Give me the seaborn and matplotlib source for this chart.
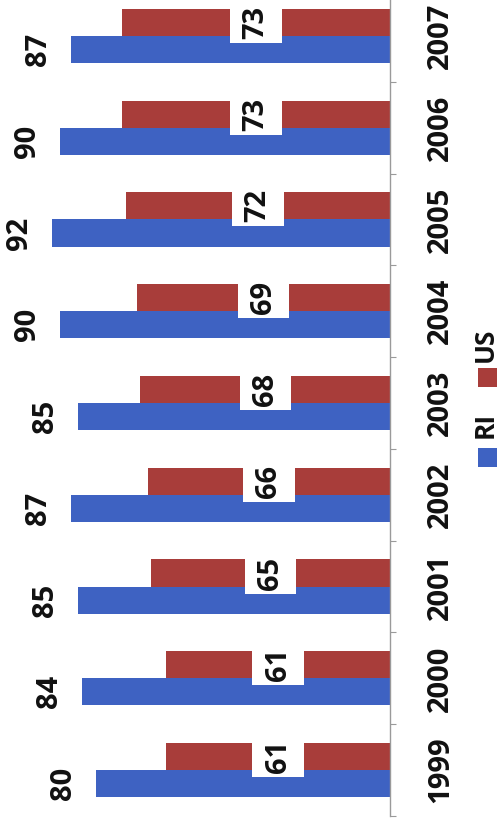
import matplotlib
matplotlib.use("Agg")
import matplotlib.pyplot as plt
from matplotlib.patches import Rectangle
import seaborn as sns
import pandas as pd

years = ["2007", "2006", "2005", "2004", "2003", "2002", "2001", "2000", "1999"]
ri_values = [87, 90, 92, 90, 85, 87, 85, 84, 80]
us_values = [73, 73, 72, 69, 68, 66, 65, 61, 61]
series = ["US", "RI"]
legend_order = ["RI", "US"]
colors = {"RI": "#3e62c2", "US": "#a83d3a"}

df = pd.DataFrame({
    "year": years * 2,
    "value": us_values + ri_values,
    "series": ["US"] * len(years) + ["RI"] * len(years),
})

sns.set_theme(style="white")
plt.rcParams["font.family"] = ["Open Sans", "DejaVu Sans"]
FS = 21

W, H = 500, 818
fig = plt.figure(figsize=(W / 100, H / 100), dpi=100)
ax = fig.add_axes([23 / W, 1 - 816 / H, (390 - 23) / W, 826 / H])

group_w = 0.59
sns.barplot(data=df, x="value", y="year", hue="series", order=years,
            hue_order=series, palette=colors, orient="h", width=group_w,
            dodge=True, gap=0, saturation=1, ax=ax, legend=False,
            edgecolor="none", linewidth=0)

ax.set_xlim(100, 0)
ax.set_ylim(len(years) - 0.5, -0.5)
ax.set_xlabel("")
ax.set_ylabel("")
for s in ["left", "top", "bottom"]:
    ax.spines[s].set_visible(False)
ax.spines["right"].set_color("#9a9a9a")
ax.spines["right"].set_linewidth(1.0)
ax.set_xticks([])

ax.yaxis.tick_right()
ax.set_yticks(range(len(years)))
ax.set_yticklabels(years, rotation=90, va="center", ha="left",
                   fontsize=FS, fontweight="bold", color="#111111")
ax.tick_params(axis="y", which="major", length=0, pad=26)
ax.set_yticks([i + 0.5 for i in range(-1, len(years))], minor=True)
ax.tick_params(axis="y", which="minor", length=4.5, width=0.8,
               color="#9a9a9a", direction="out", right=True, left=False)

bw = group_w / 2
for i, (r, u) in enumerate(zip(ri_values, us_values)):
    # RI labels at bar end
    ax.annotate(str(r), xy=(r, i + bw / 2), xytext=(-13, 0),
                textcoords="offset points", rotation=90, ha="right",
                va="center", fontsize=FS, fontweight="bold", color="#111111")
    # US labels centered on bar with white box
    ax.add_patch(Rectangle((u / 2 - 7, i - bw - 0.087), 14, bw + 0.087 + 0.076,
                           facecolor="white", edgecolor="none", zorder=3))
    ax.text(u / 2, i - bw / 2, str(u), rotation=90, ha="center", va="center",
            fontsize=FS, fontweight="bold", color="#111111", zorder=4)

# manual rotated legend
def fy(py):
    return 1 - py / H

sq = 19
positions = {"RI": (448, 425), "US": (368, 345)}
for name in legend_order:
    top, tc = positions[name]
    fig.patches.append(Rectangle((478 / W, fy(top + sq)), sq / W, sq / H,
                                 transform=fig.transFigure,
                                 facecolor=colors[name], edgecolor="none"))
    fig.text(485 / W, fy(tc), name, rotation=90, ha="center", va="center",
             fontsize=19, fontweight="bold", color="#111111")

fig.savefig("out.png", dpi=100)
